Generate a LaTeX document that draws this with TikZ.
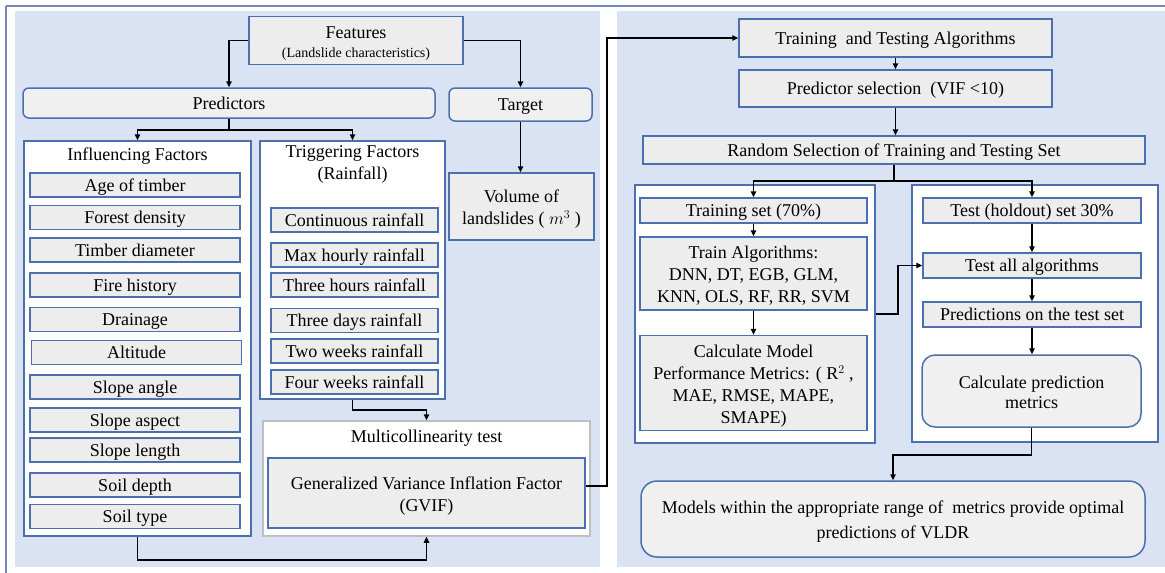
\documentclass[tikz,border=0pt]{standalone}
\usepackage{fontspec}
\setmainfont{Liberation Serif}
\usetikzlibrary{arrows.meta}
\definecolor{panel}{HTML}{DAE3F3}
\definecolor{bord}{HTML}{4C6FAE}
\definecolor{gfill}{HTML}{EDEDED}
\definecolor{rfill}{HTML}{F0F0F0}
\definecolor{framec}{HTML}{7088B8}
\definecolor{gbord}{HTML}{BFBFBF}
\newcommand\wstrut{\rule[-3.9pt]{0pt}{19.9pt}}
\newcommand\ml[2][7pt]{\raisebox{0pt}[\dimexpr\height+#1\relax][\depth]{\begin{tabular}{@{}c@{}}#2\end{tabular}}}
\begin{document}
\begin{tikzpicture}[x=1pt,y=-1pt,
  every node/.style={font=\fontsize{18}{22}\selectfont, inner sep=0pt, align=center,
    execute at begin node=\wstrut, execute at end node=\wstrut},
  gbox/.style={draw=bord, line width=1.5pt, fill=gfill},
  rbox/.style={draw=bord, line width=1.5pt, fill=rfill, rounded corners=#1},
  rbox/.default=6pt,
  wbox/.style={draw=bord, line width=1.5pt, fill=white},
  arr/.style={draw=black, line width=1.8pt, -{Triangle[length=6pt,width=5.5pt]}},
  ttl/.style={font=\fontsize{18}{22}\selectfont},
]
\useasboundingbox (0,0) rectangle (1165,573);
% panels
\fill[white] (0,0) rectangle (1165,573);
\fill[panel] (15,11) rectangle (600,567);
\fill[panel] (617,11) rectangle (1165,567);
\draw[framec, line width=2pt] (6,5.5) -- (1165,5.5);
\draw[framec, line width=2pt] (6,5.5) -- (6,573);

% ---------- left panel ----------
\node[gbox, minimum width=214, minimum height=47] (feat) at (356,40.5)
  {\ml{Features\\[-3pt]{\fontsize{14}{16}\selectfont (Landslide characteristics)}}};
\node[rbox, minimum width=412, minimum height=30] (pred) at (229,103) {Predictors};
\node[rbox, minimum width=143, minimum height=33] (target) at (520.5,104.5) {Target};
\node[gbox, minimum width=145, minimum height=67] (vol) at (521.5,206.5)
  {\ml[6pt]{Volume of\\landslides ( $m^3$ )}};

\node[wbox, minimum width=227, minimum height=395] (infl) at (137.5,338.5) {};
\node[wbox, minimum width=185, minimum height=258] (trig) at (352.5,270) {};
\node[ttl] (inflt) at (137.5,154) {Influencing Factors};
\node[ttl] (trigt) at (352.5,162.5) {\ml[3pt]{Triggering Factors\\(Rainfall)}};

\tikzset{li/.style={gbox, minimum width=210, minimum height=24},
         ri/.style={gbox, minimum width=167, minimum height=24}}
\node[li] (i1) at (135,185) {Age of timber};
\node[li] (i2) at (135,217.5) {Forest density};
\node[li] (i3) at (135,250) {Timber diameter};
\node[li] (i4) at (135,285) {Fire history};
\node[li] (i5) at (135,319.5) {Drainage};
\node[li] (i6) at (136.5,352.5) {Altitude};
\node[li] (i7) at (135,387) {Slope angle};
\node[li] (i8) at (135,420) {Slope aspect};
\node[li] (i9) at (135,450) {Slope length};
\node[li] (i10) at (135,485) {Soil depth};
\node[li] (i11) at (135,516.5) {Soil type};

\node[ri] (r1) at (354.5,220) {Continuous rainfall};
\node[ri] (r2) at (354.5,255) {Max hourly rainfall};
\node[ri] (r3) at (354.5,285) {Three hours rainfall};
\node[ri] (r4) at (354.5,320.5) {Three days rainfall};
\node[ri] (r5) at (354.5,351) {Two weeks rainfall};
\node[ri] (r6) at (354.5,382) {Four weeks rainfall};

\node[draw=gbord, line width=1.5pt, fill=white, minimum width=327, minimum height=115] (multi) at (426.5,478.5) {};
\node[ttl] (multit) at (426.5,436) {Multicollinearity test};
\node[gbox, minimum width=317, minimum height=70] (gvif) at (426.5,493)
  {\ml{Generalized Variance Inflation Factor\\(GVIF)}};

% ---------- right panel ----------
\node[gbox, minimum width=313, minimum height=38] (tt) at (895.5,38) {Training~~and Testing Algorithms};
\node[gbox, minimum width=313, minimum height=37] (ps) at (895.5,88.5) {Predictor selection~~(VIF <10)};
\node[gbox, minimum width=502, minimum height=28] (rand) at (894,150) {Random Selection of Training and Testing Set};

\node[wbox, minimum width=240, minimum height=258] (lout) at (755,314) {};
\node[wbox, minimum width=246, minimum height=257] (rout) at (1035,313.5) {};

\node[gbox, minimum width=227, minimum height=25] (trs) at (753.5,210.5) {Training set (70\%)};
\node[gbox, minimum width=227, minimum height=73] (talg) at (753.5,273.5)
  {\ml[6pt]{Train Algorithms:\\DNN, DT, EGB, GLM,\\KNN, OLS, RF, RR, SVM}};
\node[gbox, minimum width=227, minimum height=90] (cmod) at (753.5,383)
  {\ml{Calculate Model\\Performance Metrics: ( R$^2$ ,\\MAE, RMSE, MAPE,\\SMAPE)}};

\node[gbox, minimum width=218, minimum height=25] (tho) at (1032,210.5) {Test (holdout) set 30\%};
\node[gbox, minimum width=218, minimum height=25] (tall) at (1032,265.5) {Test all algorithms};
\node[gbox, minimum width=218, minimum height=25] (pts) at (1032,314.5) {Predictions on the test set};
\node[rbox=13pt, minimum width=219, minimum height=72] (cpred) at (1031.5,391)
  {\ml{Calculate prediction\\[-2pt]metrics}};

\node[rbox=16pt, minimum width=504, minimum height=76] (models) at (893,519)
  {\ml[6pt]{Models within the appropriate range of~~metrics provide optimal\\[3pt]predictions of VLDR}};

\coordinate (jx) at (607,0);
\coordinate (jx2) at (898,0);

% ---------- connectors ----------
\draw[arr] (feat.west) -| (pred.north);
\draw[arr] (feat.east) -| (target.north);
\draw[arr] (target.south) -- (target.south |- vol.north);
\draw[arr] (pred.south) -- ++(0,11) -| (infl.north);
\draw[arr] (pred.south) -- ++(0,11) -| (trig.north);
\draw[arr] (trig.south) -- ++(0,10) -| (multi.north);
\draw[arr] (infl.south) -- ++(0,23) -| (multi.south);
\draw[arr] ([yshift=7pt]gvif.east) -- ([yshift=7pt]gvif.east -| jx) |- (tt.west);

\draw[arr] (tt.south) -- (ps.north);
\draw[arr] (ps.south) -- (ps.south |- rand.north);
\draw[arr] (rand.south) -- ++(0,16) -| (trs.north);
\draw[arr] (rand.south) -- ++(0,16) -| (tho.north);
\draw[arr] (trs.south) -- (talg.north);
\draw[arr] (talg.south) -- (cmod.north);
\draw[arr] (tho.south) -- (tall.north);
\draw[arr] (tall.south) -- (pts.north);
\draw[arr] (pts.south) -- (pts.south |- cpred.north);
\draw[arr] (lout.east) -- (lout.east -| jx2) |- (tall.west);
\draw[arr] (cpred.south) -- ++(0,27) -| (models.north);
\end{tikzpicture}
\end{document}
